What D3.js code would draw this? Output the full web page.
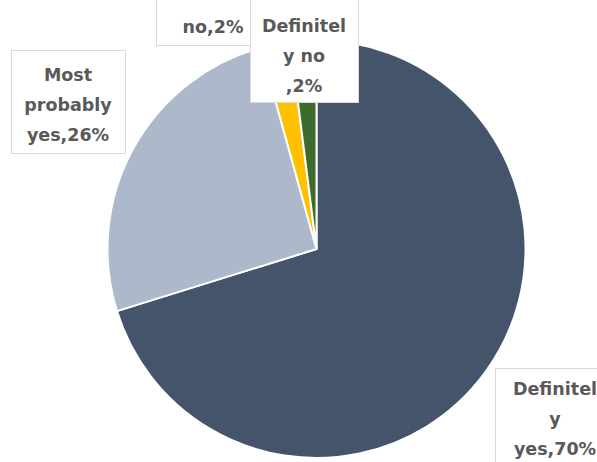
<!DOCTYPE html>
<html>
<head>
<meta charset="utf-8">
<script src="https://cdn.jsdelivr.net/npm/d3@7"></script>
<style>
  html, body { margin: 0; padding: 0; background: #ffffff; }
  svg { display: block; }
</style>
</head>
<body>
<svg id="chart" width="597" height="462"></svg>
<script>
// ---- data ----
const categories = ["Definitely yes", "Most probably yes", "Most probably no", "Definitely no"];
const values = [70.2, 25.5, 2.3, 2.0];
const colors = ["#44546A", "#ADB9CA", "#FFC000", "#3E6B2C"];
// wrapped label lines (as wrapped in the original chart)
const labelLines = [
  ["Definitel", "y", "yes,70%"],
  ["Most", "probably", "yes,26%"],
  ["Most", "probably", "no,2%"],
  ["Definitel", "y no", ",2%"]
];

// ---- layout ----
const W = 597, H = 462;
const cx = 316.5, cy = 249, R = 209;
const fontSize = 17.5, lineH = 30;
// label boxes: [left, top, width, height, first baseline]
const labelBoxes = [
  [495, 368, 120, 110, 395],
  [11, 50, 114, 103, 81],
  [156, -58, 114, 103, -27],
  [250, -4, 108, 106, 32]
];
const drawOrder = [0, 1, 2, 3];

const svg = d3.select("#chart");
svg.append("defs").append("clipPath").attr("id", "topclip")
  .append("rect").attr("x", 0).attr("y", 12).attr("width", W).attr("height", H);

const pie = d3.pie().sort(null).value(d => d.value).startAngle(0).endAngle(2 * Math.PI);
const data = categories.map((c, i) => ({ name: c, value: values[i], color: colors[i], lines: labelLines[i] }));
const arcs = pie(data);
const arc = d3.arc().innerRadius(0).outerRadius(R);

const g = svg.append("g").attr("transform", `translate(${cx},${cy})`);
g.selectAll("path.slice")
  .data(arcs)
  .join("path")
  .attr("class", "slice")
  .attr("d", arc)
  .attr("fill", d => d.data.color)
  .attr("stroke", "#ffffff")
  .attr("stroke-width", 2)
  .attr("stroke-linejoin", "miter");

// ---- labels ----
const lg = svg.append("g");
drawOrder.forEach(i => {
  const d = data[i];
  const [x, y, w, h, b0] = labelBoxes[i];
  const grp = lg.append("g");
  grp.append("rect")
    .attr("x", x + 0.5).attr("y", y + 0.5)
    .attr("width", w).attr("height", h)
    .attr("fill", "#ffffff")
    .attr("stroke", "#D9D9D9")
    .attr("stroke-width", 1);
  const t = grp.append("text")
    .attr("text-anchor", "middle")
    .attr("font-family", "'DejaVu Sans', sans-serif")
    .attr("font-weight", "bold")
    .attr("font-size", fontSize)
    .attr("fill", "#595959");
  if (b0 < 12) t.attr("clip-path", "url(#topclip)");
  d.lines.forEach((ln, k) => {
    t.append("tspan")
      .attr("x", x + w / 2)
      .attr("y", b0 + k * lineH)
      .text(ln);
  });
});
</script>
</body>
</html>
